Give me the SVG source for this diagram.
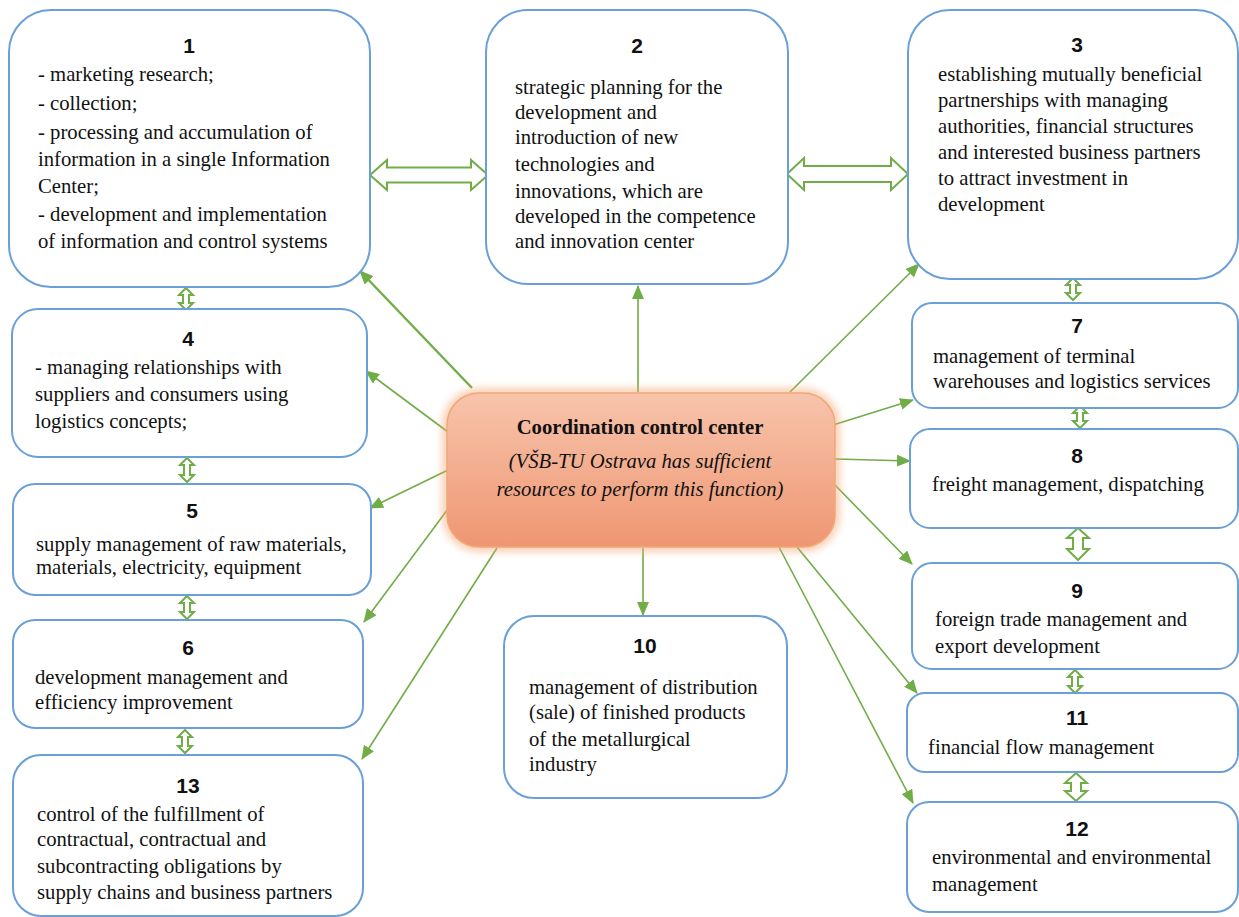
<svg xmlns="http://www.w3.org/2000/svg" width="1239" height="917" viewBox="0 0 1239 917">
<defs>
<style>
.box{fill:#fff;stroke:#6A9FD8;stroke-width:2}
.num{font-family:"Liberation Sans",Arial,sans-serif;font-weight:bold;font-size:21px;fill:#111;text-anchor:middle}
.t{font-family:"Liberation Serif","Times New Roman",serif;font-size:20.7px;fill:#111}
.conn{stroke:#70AD47;stroke-width:1.6;fill:none;marker-end:url(#ah)}
.dbl{fill:#fff;stroke:#70AD47;stroke-width:2;stroke-linejoin:miter}
.ct{font-family:"Liberation Serif","Times New Roman",serif;font-size:20.7px;fill:#111;text-anchor:middle}
</style>
<marker id="ah" markerWidth="14" markerHeight="12" refX="13" refY="6" orient="auto" markerUnits="userSpaceOnUse">
<path d="M0,0 L14,6 L0,12 Z" fill="#70AD47"/>
</marker>
<linearGradient id="cg" x1="0" y1="0" x2="0" y2="1">
<stop offset="0" stop-color="#F7C4AC"/>
<stop offset="1" stop-color="#EF9672"/>
</linearGradient>
<filter id="glow" x="-10%" y="-20%" width="120%" height="140%">
<feGaussianBlur stdDeviation="4"/>
</filter>
</defs>
<rect width="1239" height="917" fill="#fff"/>

<g id="connectors">
<line class="conn" x1="472" y1="388" x2="360" y2="271" style="stroke-width:2.4"/>
<line class="conn" x1="638" y1="392" x2="638" y2="286"/>
<line class="conn" x1="790" y1="392" x2="919" y2="264"/>
<line class="conn" x1="448" y1="432" x2="366" y2="371"/>
<line class="conn" x1="448" y1="470" x2="370" y2="508"/>
<line class="conn" x1="468" y1="482" x2="364" y2="622"/>
<line class="conn" x1="497" y1="548" x2="362" y2="759"/>
<line class="conn" x1="643" y1="548" x2="643" y2="615"/>
<line class="conn" x1="833" y1="425" x2="913" y2="400"/>
<line class="conn" x1="835" y1="459" x2="910" y2="461"/>
<line class="conn" x1="835" y1="485" x2="912" y2="564"/>
<line class="conn" x1="797" y1="547" x2="917" y2="693"/>
<line class="conn" x1="779" y1="547" x2="913" y2="803"/>
<path class="dbl" d="M370,175 L387,160 L387,167.5 L471,167.5 L471,160 L488,175 L471,190 L471,182.5 L387,182.5 L387,190 Z"/>
<path class="dbl" d="M787,174 L804,158 L804,166 L891,166 L891,158 L908,174 L891,190 L891,182 L804,182 L804,190 Z"/>
<path class="dbl" d="M186,288 L193,295 L189,295 L189,303 L193,303 L186,310 L179,303 L183,303 L183,295 L179,295 Z"/>
<path class="dbl" d="M187,458 L194,465 L190,465 L190,475 L194,475 L187,482 L180,475 L184,475 L184,465 L180,465 Z"/>
<path class="dbl" d="M187,596 L194,603 L190,603 L190,612 L194,612 L187,619 L180,612 L184,612 L184,603 L180,603 Z"/>
<path class="dbl" d="M185,730 L192,737 L188,737 L188,746 L192,746 L185,753 L178,746 L182,746 L182,737 L178,737 Z"/>
<path class="dbl" d="M1073,278 L1080,285 L1076,285 L1076,293 L1080,293 L1073,300 L1066,293 L1070,293 L1070,285 L1066,285 Z"/>
<path class="dbl" d="M1080,406 L1087,413 L1083,413 L1083,421 L1087,421 L1080,428 L1073,421 L1077,421 L1077,413 L1073,413 Z"/>
<path class="dbl" d="M1078,528 L1089,538 L1083,538 L1083,549 L1089,549 L1078,560 L1067,549 L1073,549 L1073,538 L1067,538 Z"/>
<path class="dbl" d="M1075,670 L1082,677 L1078,677 L1078,686 L1082,686 L1075,693 L1068,686 L1072,686 L1072,677 L1068,677 Z"/>
<path class="dbl" d="M1076,773 L1087,783 L1081,783 L1081,791 L1087,791 L1076,801 L1065,791 L1071,791 L1071,783 L1065,783 Z"/>
</g>

<g id="n1">
<rect class="box" x="9" y="10" width="361" height="277" rx="42"/>
<text class="num" x="189" y="53">1</text>
<text class="t" x="38" y="81">- marketing research;</text>
<text class="t" x="38" y="110">- collection;</text>
<text class="t" x="38" y="139">- processing and accumulation of</text>
<text class="t" x="38" y="166">information in a single Information</text>
<text class="t" x="38" y="193">Center;</text>
<text class="t" x="38" y="221">- development and implementation</text>
<text class="t" x="38" y="248">of information and control systems</text>
</g>

<g id="n2">
<rect class="box" x="486" y="10" width="302" height="274" rx="42"/>
<text class="num" x="637" y="53">2</text>
<text class="t" x="515" y="94">strategic planning for the</text>
<text class="t" x="515" y="119">development and</text>
<text class="t" x="515" y="144">introduction of new</text>
<text class="t" x="515" y="171">technologies and</text>
<text class="t" x="515" y="198">innovations, which are</text>
<text class="t" x="515" y="223">developed in the competence</text>
<text class="t" x="515" y="248">and innovation center</text>
</g>

<g id="n3">
<rect class="box" x="908" y="10" width="330" height="269" rx="42"/>
<text class="num" x="1077" y="52">3</text>
<text class="t" x="938" y="81">establishing mutually beneficial</text>
<text class="t" x="938" y="107">partnerships with managing</text>
<text class="t" x="938" y="133">authorities, financial structures</text>
<text class="t" x="938" y="159">and interested business partners</text>
<text class="t" x="938" y="185">to attract investment in</text>
<text class="t" x="938" y="211">development</text>
</g>

<g id="n4">
<rect class="box" x="12" y="309" width="355" height="148" rx="26"/>
<text class="num" x="188" y="346">4</text>
<text class="t" x="35" y="374">- managing relationships with</text>
<text class="t" x="35" y="401">suppliers and consumers using</text>
<text class="t" x="35" y="428">logistics concepts;</text>
</g>

<g id="n5">
<rect class="box" x="13" y="484" width="358" height="111" rx="22"/>
<text class="num" x="192" y="518">5</text>
<text class="t" x="36" y="551">supply management of raw materials,</text>
<text class="t" x="36" y="574">materials, electricity, equipment</text>
</g>

<g id="n6">
<rect class="box" x="13" y="620" width="350" height="108" rx="22"/>
<text class="num" x="188" y="655">6</text>
<text class="t" x="35" y="684">development management and</text>
<text class="t" x="35" y="709">efficiency improvement</text>
</g>

<g id="n13">
<rect class="box" x="13" y="755" width="350" height="161" rx="28"/>
<text class="num" x="188" y="793">13</text>
<text class="t" x="37" y="821">control of the fulfillment of</text>
<text class="t" x="37" y="846">contractual, contractual and</text>
<text class="t" x="37" y="873">subcontracting obligations by</text>
<text class="t" x="37" y="899">supply chains and business partners</text>
</g>

<g id="n10">
<rect class="box" x="504" y="616" width="283" height="182" rx="30"/>
<text class="num" x="645" y="653">10</text>
<text class="t" x="529" y="694">management of distribution</text>
<text class="t" x="529" y="719">(sale) of finished products</text>
<text class="t" x="529" y="746">of the metallurgical</text>
<text class="t" x="529" y="771">industry</text>
</g>

<g id="n7">
<rect class="box" x="912" y="303" width="326" height="105" rx="20"/>
<text class="num" x="1077" y="333">7</text>
<text class="t" x="933" y="363">management of terminal</text>
<text class="t" x="933" y="388">warehouses and logistics services</text>
</g>

<g id="n8">
<rect class="box" x="910" y="429" width="328" height="99" rx="20"/>
<text class="num" x="1077" y="463">8</text>
<text class="t" x="932" y="491">freight management, dispatching</text>
</g>

<g id="n9">
<rect class="box" x="912" y="563" width="326" height="106" rx="20"/>
<text class="num" x="1077" y="598">9</text>
<text class="t" x="935" y="626">foreign trade management and</text>
<text class="t" x="935" y="653">export development</text>
</g>

<g id="n11">
<rect class="box" x="907" y="693" width="331" height="79" rx="18"/>
<text class="num" x="1077" y="725">11</text>
<text class="t" x="928" y="754">financial flow management</text>
</g>

<g id="n12">
<rect class="box" x="907" y="802" width="331" height="110" rx="22"/>
<text class="num" x="1077" y="836">12</text>
<text class="t" x="932" y="864">environmental and environmental</text>
<text class="t" x="932" y="891">management</text>
</g>

<g id="center">
<rect x="447" y="393" width="388" height="154" rx="32" fill="none" stroke="#F4A977" stroke-width="8" opacity="0.7" filter="url(#glow)"/>
<rect x="447" y="393" width="388" height="154" rx="32" fill="url(#cg)" stroke="#F2A676" stroke-width="1.5"/>
<text class="ct" x="640" y="434" font-weight="bold">Coordination control center</text>
<text class="ct" x="640" y="468" font-style="italic">(VŠB-TU Ostrava has sufficient</text>
<text class="ct" x="640" y="496" font-style="italic">resources to perform this function)</text>
</g>
</svg>
